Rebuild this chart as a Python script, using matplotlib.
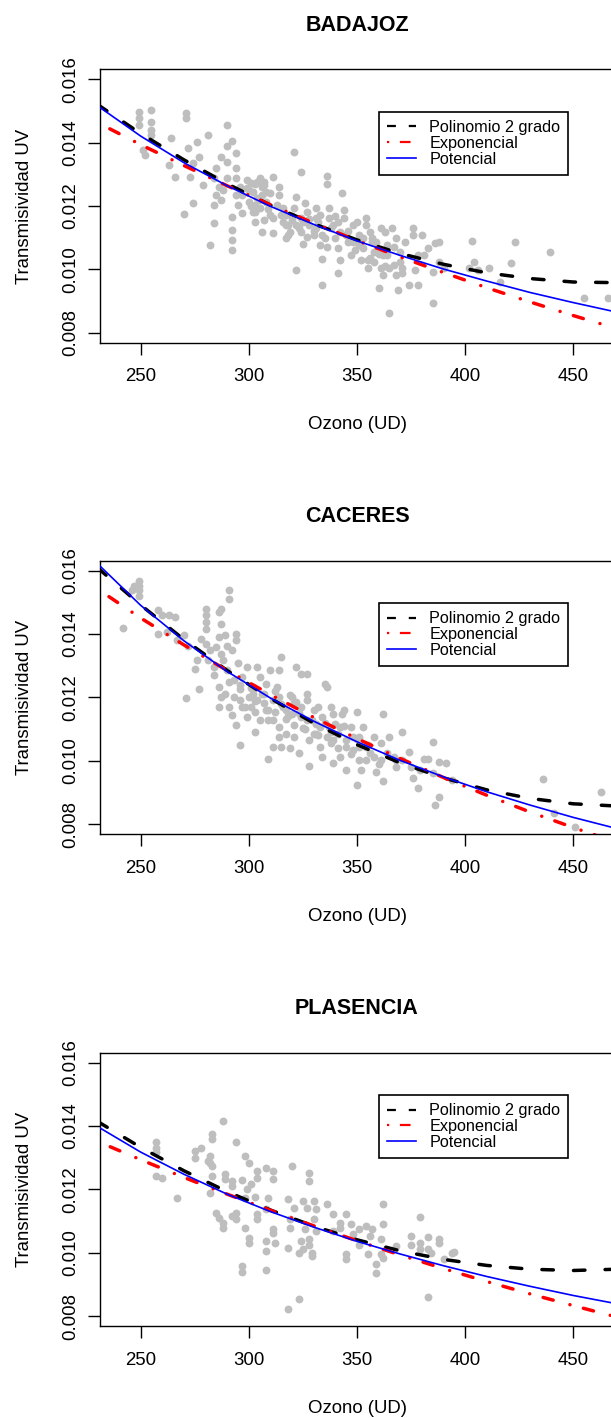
"""Transmisividad UV frente a ozono: tres estaciones con tres ajustes."""

import matplotlib

matplotlib.use("Agg")
import matplotlib.pyplot as plt
from matplotlib.lines import Line2D

plt.rcParams["font.family"] = ["Liberation Sans", "DejaVu Sans"]

STATIONS = ["BADAJOZ", "CACERES", "PLASENCIA"]
LEGEND_LABELS = ["Polinomio 2 grado", "Exponencial", "Potencial"]
X_TICKS = [250, 300, 350, 400, 450]
Y_TICKS = [0.008, 0.010, 0.012, 0.014, 0.016]

CURVE_OZONE = [230, 250, 270, 290, 310, 330, 350, 370, 390, 410, 430, 450, 470]

# --- BADAJOZ ---
BADAJOZ_OZONE = [
    249, 249, 249, 251, 252, 255, 255, 255, 255, 271, 271, 264, 263, 266, 272, 270,
    274, 276, 273, 274, 277, 279, 281, 282, 284, 284, 290, 290, 292, 292, 292, 292,
    292, 287, 285, 284, 286, 288, 287, 290, 294, 294, 294, 294, 295, 297, 296, 299,
    301, 302, 304, 305, 307, 308, 307, 306, 303, 302, 303, 305, 307, 306, 310, 311,
    314, 314, 311, 313, 316, 317, 317, 317, 319, 321, 321, 322, 322, 324, 324, 325,
    326, 327, 328, 330, 331, 331, 333, 333, 334, 334, 336, 336, 337, 337, 339, 340,
    341, 341, 342, 341, 343, 344, 344, 345, 346, 347, 348, 350, 351, 351, 353, 354,
    354, 355, 355, 356, 357, 358, 358, 359, 360, 361, 361, 362, 363, 364, 364, 365,
    366, 367, 368, 368, 369, 370, 371, 371, 372, 374, 376, 376, 377, 378, 378, 380,
    381, 383, 385, 385, 386, 388, 388, 390, 402, 403, 404, 406, 411, 416, 421, 423,
    439, 455, 466, 299, 304, 308, 311, 315, 318, 320, 322, 324, 327, 331, 334, 342,
    348, 353, 356, 362, 365, 370, 290, 285, 297, 300,
    300, 301, 303, 305, 306, 309, 310, 303, 316, 318, 320, 323, 325, 328, 330, 332,
    335, 338, 340, 336, 346, 349, 352, 357, 360, 363, 367,
]
BADAJOZ_TRANS = [
    0.01498, 0.01477, 0.01456, 0.01377, 0.01361, 0.01503, 0.01467, 0.01440, 0.01424, 0.01493,
    0.01477, 0.01414, 0.01330, 0.01293, 0.01382, 0.01174, 0.01335, 0.01403, 0.01293, 0.01209,
    0.01356, 0.01266, 0.01424, 0.01077, 0.01145, 0.01203, 0.01456, 0.01391, 0.01405, 0.01166,
    0.01124, 0.01093, 0.01061, 0.01356, 0.01319, 0.01288, 0.01261, 0.01251, 0.01219, 0.01340,
    0.01367, 0.01319, 0.01288, 0.01235, 0.01203, 0.01177, 0.01261, 0.01282, 0.01272, 0.01245,
    0.01277, 0.01288, 0.01267, 0.01245, 0.01277, 0.01235, 0.01203, 0.01182, 0.01150, 0.01193,
    0.01156, 0.01119, 0.01172, 0.01293, 0.01235, 0.01261, 0.01114, 0.01203, 0.01193, 0.01172,
    0.01140, 0.01098, 0.01119, 0.01193, 0.01372, 0.01230, 0.00998, 0.01309, 0.01161, 0.01150,
    0.01209, 0.01182, 0.01140, 0.01108, 0.01193, 0.01161, 0.01172, 0.01077, 0.01033, 0.00951,
    0.01296, 0.01270, 0.01193, 0.01161, 0.01140, 0.01098, 0.01150, 0.01066, 0.01030, 0.00989,
    0.01240, 0.01188, 0.01161, 0.01108, 0.01087, 0.01045, 0.01140, 0.01150, 0.01077, 0.01108,
    0.01066, 0.01161, 0.01140, 0.01030, 0.01003, 0.01119, 0.01087, 0.01056, 0.01024, 0.01087,
    0.00940, 0.01130, 0.01003, 0.00982, 0.01119, 0.01045, 0.01077, 0.00861, 0.01130, 0.01014,
    0.00982, 0.01098, 0.00935, 0.01056, 0.00987, 0.01003, 0.01087, 0.00951, 0.01130, 0.01108,
    0.00998, 0.00951, 0.01045, 0.01108, 0.01045, 0.01066, 0.00893, 0.00993, 0.01082, 0.01024,
    0.01087, 0.01003, 0.01003, 0.01090, 0.01024, 0.00998, 0.01003, 0.00961, 0.01019, 0.01087,
    0.01054, 0.00911, 0.00909, 0.01256, 0.01224, 0.01214, 0.01161, 0.01172, 0.01140, 0.01156,
    0.01140, 0.01119, 0.01103, 0.01130, 0.01108, 0.01119, 0.01087, 0.01098, 0.01035, 0.01045,
    0.01003, 0.01024, 0.01288, 0.01235, 0.01235, 0.01214,
    0.01250, 0.01200, 0.01270, 0.01220, 0.01260, 0.01190, 0.01240, 0.01180, 0.01150, 0.01110,
    0.01170, 0.01130, 0.01080, 0.01160, 0.01120, 0.01150, 0.01100, 0.01130, 0.01170, 0.01070,
    0.01120, 0.01060, 0.01030, 0.01100, 0.01050, 0.01010, 0.01070,
]
BADAJOZ_POLY = [0.01521, 0.01429, 0.01346, 0.01270, 0.01203, 0.01144, 0.01093,
                0.01050, 0.01016, 0.00989, 0.00971, 0.00960, 0.00958]
BADAJOZ_EXP = [0.01464, 0.01394, 0.01328, 0.01264, 0.01204, 0.01146, 0.01091,
               0.01039, 0.00990, 0.00942, 0.00897, 0.00854, 0.00813]
BADAJOZ_POT = [0.01517, 0.01421, 0.01337, 0.01264, 0.01199, 0.01142, 0.01090,
               0.01044, 0.01001, 0.00963, 0.00927, 0.00895, 0.00865]

# --- CACERES ---
CACERES_OZONE = [
    249, 249, 249, 249, 247, 246, 242, 258, 260, 263, 266, 258, 262, 267, 270, 272,
    275, 277, 276, 278, 280, 280, 280, 280, 280, 282, 281, 284, 284, 285, 286, 287,
    287, 286, 287, 288, 290, 291, 291, 289, 290, 292, 293, 294, 294, 295, 286, 287,
    289, 286, 291, 292, 294, 271, 296, 296, 297, 299, 300, 301, 302, 303, 303, 304,
    305, 307, 307, 308, 309, 310, 311, 309, 311, 312, 313, 314, 314, 315, 315, 316,
    317, 317, 319, 319, 320, 321, 322, 322, 323, 324, 324, 325, 327, 327, 328, 328,
    330, 331, 331, 332, 333, 334, 334, 335, 336, 337, 338, 338, 339, 340, 341, 342,
    343, 344, 345, 345, 347, 348, 350, 350, 351, 351, 352, 353, 354, 356, 358, 359,
    361, 361, 362, 362, 364, 365, 367, 368, 368, 371, 371, 374, 375, 376, 378, 379,
    381, 383, 385, 385, 386, 388, 388, 391, 394, 436, 441, 451, 463, 296, 299, 304,
    305, 308, 311, 314, 317, 321, 324, 327, 330, 333, 336, 339, 342, 345, 348, 351,
    354, 358, 339, 327, 321, 314, 302, 297,
    291, 293, 296, 298, 301, 303, 306, 309, 312, 315, 318, 320, 323, 326, 329, 332,
    335, 338, 341, 344, 347, 350, 355, 360,
]
CACERES_TRANS = [
    0.01569, 0.01553, 0.01538, 0.01522, 0.01553, 0.01538, 0.01419, 0.01475, 0.01459, 0.01459,
    0.01454, 0.01401, 0.01406, 0.01380, 0.01396, 0.01364, 0.01291, 0.01228, 0.01317, 0.01385,
    0.01480, 0.01459, 0.01438, 0.01417, 0.01370, 0.01349, 0.01317, 0.01296, 0.01270, 0.01359,
    0.01469, 0.01480, 0.01432, 0.01390, 0.01338, 0.01317, 0.01286, 0.01538, 0.01511, 0.01396,
    0.01364, 0.01349, 0.01254, 0.01401, 0.01380, 0.01310, 0.01233, 0.01202, 0.01212, 0.01170,
    0.01170, 0.01144, 0.01112, 0.01199, 0.01049, 0.01228, 0.01265, 0.01296, 0.01202, 0.01170,
    0.01233, 0.01154, 0.01091, 0.01296, 0.01265, 0.01212, 0.01181, 0.01244, 0.01128, 0.01286,
    0.01044, 0.01007, 0.01191, 0.01154, 0.01233, 0.01107, 0.01286, 0.01328, 0.01044, 0.01170,
    0.01133, 0.01086, 0.01207, 0.01039, 0.01149, 0.01112, 0.01296, 0.01186, 0.01023, 0.01275,
    0.01139, 0.01102, 0.01275, 0.01212, 0.00983, 0.01065, 0.01160, 0.01117, 0.01086, 0.01170,
    0.01044, 0.01013, 0.01139, 0.01244, 0.01233, 0.01107, 0.01170, 0.01055, 0.00992, 0.01117,
    0.01086, 0.01013, 0.01149, 0.01160, 0.00971, 0.01065, 0.01107, 0.01034, 0.01154, 0.00923,
    0.01002, 0.01076, 0.00971, 0.01107, 0.01044, 0.01023, 0.01076, 0.00965, 0.01002, 0.01055,
    0.01149, 0.00937, 0.01023, 0.01076, 0.01013, 0.00981, 0.01002, 0.01091, 0.01002, 0.01028,
    0.00981, 0.00944, 0.00913, 0.00970, 0.01007, 0.01004, 0.00960, 0.01060, 0.00860, 0.00997,
    0.00884, 0.00992, 0.00939, 0.00941, 0.00834, 0.00792, 0.00902, 0.01191, 0.01139, 0.01191,
    0.01128, 0.01160, 0.01128, 0.01202, 0.01160, 0.01181, 0.01170, 0.01128, 0.01086, 0.01107,
    0.01076, 0.01065, 0.01107, 0.01044, 0.01076, 0.01044, 0.01002, 0.01013, 0.01149, 0.01191,
    0.01076, 0.01076, 0.01212, 0.01170,
    0.01250, 0.01200, 0.01240, 0.01170, 0.01230, 0.01190, 0.01210, 0.01160, 0.01220, 0.01180,
    0.01140, 0.01200, 0.01150, 0.01100, 0.01130, 0.01080, 0.01120, 0.01090, 0.01040, 0.01110,
    0.01020, 0.01070, 0.01050, 0.00990,
]
CACERES_POLY = [0.01610, 0.01492, 0.01383, 0.01285, 0.01197, 0.01119, 0.01051,
                0.00993, 0.00946, 0.00908, 0.00881, 0.00864, 0.00857]
CACERES_EXP = [0.01543, 0.01451, 0.01366, 0.01285, 0.01209, 0.01137, 0.01070,
               0.01007, 0.00947, 0.00891, 0.00838, 0.00789, 0.00742]
CACERES_POT = [0.01623, 0.01491, 0.01379, 0.01282, 0.01198, 0.01125, 0.01060,
               0.01001, 0.00949, 0.00902, 0.00860, 0.00821, 0.00786]

# --- PLASENCIA ---
PLASENCIA_OZONE = [
    257, 257, 257, 257, 260, 267, 275, 275, 278, 283, 283, 282, 282, 283, 281, 282,
    283, 288, 289, 289, 292, 292, 285, 286, 288, 288, 292, 294, 294, 294, 297, 298,
    298, 299, 300, 298, 300, 300, 297, 297, 301, 303, 304, 304, 304, 304, 308, 308,
    308, 308, 308, 309, 311, 311, 311, 311, 312, 318, 319, 319, 320, 321, 318, 318,
    323, 323, 324, 325, 325, 326, 327, 328, 328, 328, 328, 329, 329, 330, 330, 331,
    331, 336, 339, 339, 342, 342, 345, 345, 345, 347, 348, 351, 351, 354, 355, 356,
    357, 359, 359, 361, 361, 362, 362, 362, 368, 375, 375, 379, 379, 379, 383, 383,
    384, 383, 388, 388, 390, 394, 395,
]
PLASENCIA_TRANS = [
    0.01350, 0.01332, 0.01317, 0.01243, 0.01237, 0.01174, 0.01320, 0.01298, 0.01332, 0.01375,
    0.01359, 0.01306, 0.01285, 0.01274, 0.01290, 0.01190, 0.01243, 0.01417, 0.01248, 0.01232,
    0.01227, 0.01211, 0.01127, 0.01111, 0.01095, 0.01079, 0.01116, 0.01127, 0.01106, 0.01350,
    0.01230, 0.01306, 0.01174, 0.01200, 0.01285, 0.01079, 0.01047, 0.01032, 0.00958, 0.00939,
    0.01216, 0.01177, 0.01258, 0.01237, 0.01121, 0.01106, 0.01269, 0.00947, 0.01037, 0.01005,
    0.01137, 0.01174, 0.01258, 0.01232, 0.01074, 0.01063, 0.01030, 0.01169, 0.01106, 0.01079,
    0.01274, 0.01142, 0.01016, 0.00821, 0.00854, 0.01000, 0.01037, 0.01011, 0.01164, 0.01074,
    0.01142, 0.01253, 0.01227, 0.01042, 0.01026, 0.01000, 0.00989, 0.01164, 0.01106, 0.01137,
    0.01069, 0.01153, 0.01121, 0.01069, 0.01095, 0.01079, 0.00995, 0.00979, 0.01121, 0.01090,
    0.01058, 0.01074, 0.01026, 0.01084, 0.00995, 0.01053, 0.01076, 0.00963, 0.00935, 0.01042,
    0.00995, 0.00984, 0.01153, 0.01090, 0.01021, 0.01053, 0.01026, 0.01113, 0.01032, 0.01011,
    0.01051, 0.01011, 0.01000, 0.00861, 0.01042, 0.01032, 0.00979, 0.01000, 0.01002,
]
PLASENCIA_POLY = [0.01415, 0.01333, 0.01259, 0.01193, 0.01135, 0.01084, 0.01041,
                  0.01006, 0.00979, 0.00960, 0.00948, 0.00944, 0.00948]
PLASENCIA_EXP = [0.01352, 0.01294, 0.01238, 0.01185, 0.01134, 0.01085, 0.01038,
                 0.00993, 0.00950, 0.00909, 0.00870, 0.00833, 0.00797]
PLASENCIA_POT = [0.01399, 0.01318, 0.01248, 0.01185, 0.01130, 0.01081, 0.01036,
                 0.00996, 0.00959, 0.00925, 0.00894, 0.00865, 0.00839]

PANELS = [
    (BADAJOZ_OZONE, BADAJOZ_TRANS, BADAJOZ_POLY, BADAJOZ_EXP, BADAJOZ_POT),
    (CACERES_OZONE, CACERES_TRANS, CACERES_POLY, CACERES_EXP, CACERES_POT),
    (PLASENCIA_OZONE, PLASENCIA_TRANS, PLASENCIA_POLY, PLASENCIA_EXP, PLASENCIA_POT),
]

FIG_W, FIG_H = 611, 1418
AX_LEFT, AX_RIGHT = 100, 614
AX_TOPS = [69.3, 560.7, 1052.7]
AX_HEIGHT = 273.5

# legend keys are drawn thinner and shorter than the curves, as in the original
LEGEND_HANDLES = [
    Line2D([], [], color="black", lw=1.6, dashes=(4, 5.8), dash_capstyle="butt"),
    Line2D([], [], color="red", lw=1.6, dashes=(1, 4.8, 4.8, 5), dash_capstyle="butt"),
    Line2D([], [], color="blue", lw=1.2),
]


def draw_panel(ax, name, ozone, trans, poly, expo, pot):
    ax.scatter(ozone, trans, s=32, color="#bebebe", linewidths=0, zorder=1)
    ax.plot(CURVE_OZONE, poly, color="black", lw=2.5, dashes=(3.3, 5.8),
            dash_capstyle="round", zorder=2)
    ax.plot(CURVE_OZONE, expo, color="red", lw=2.5, dashes=(0.01, 4, 3, 5),
            dash_capstyle="round", zorder=2)
    ax.plot(CURVE_OZONE, pot, color="blue", lw=1.2, zorder=3)

    ax.set_xlim(231.2, 468.8)
    ax.set_ylim(0.00768, 0.01632)
    ax.set_xticks(X_TICKS)
    ax.set_yticks(Y_TICKS)
    ax.set_yticklabels([f"{v:.3f}" for v in Y_TICKS])
    ax.tick_params(axis="both", length=8.6, width=1.0, labelsize=13.4)
    ax.tick_params(axis="x", pad=9.7)
    ax.tick_params(axis="y", pad=6.5, labelrotation=90)
    plt.setp(ax.get_yticklabels(), va="center")
    for sp in ax.spines.values():
        sp.set_linewidth(1.0)

    ax.text(0.5, 1.1401, name, transform=ax.transAxes, ha="center",
            va="baseline", fontsize=15.5, fontweight="bold")
    ax.text(0.5, -0.3168, "Ozono (UD)", transform=ax.transAxes, ha="center",
            va="baseline", fontsize=13.4)
    ax.text(-0.1381, 0.5, "Transmisividad UV", transform=ax.transAxes,
            rotation=90, rotation_mode="anchor", ha="center", va="baseline",
            fontsize=13.4)

    leg = ax.legend(LEGEND_HANDLES, LEGEND_LABELS, loc="upper left",
                    bbox_to_anchor=(0.5428, 0.8446), borderaxespad=0,
                    fontsize=11.7, frameon=True, fancybox=False,
                    edgecolor="black", framealpha=1, handlelength=1.8,
                    handletextpad=0.8, borderpad=0.5, labelspacing=0.05)
    leg.get_frame().set_linewidth(1.2)


fig = plt.figure(figsize=(FIG_W / 100, FIG_H / 100), dpi=100)
for name, top, data in zip(STATIONS, AX_TOPS, PANELS):
    rect = [AX_LEFT / FIG_W, 1 - (top + AX_HEIGHT) / FIG_H,
            (AX_RIGHT - AX_LEFT) / FIG_W, AX_HEIGHT / FIG_H]
    ax = fig.add_axes(rect)
    draw_panel(ax, name, *data)

fig.savefig("out.png", dpi=100)
plt.close(fig)
